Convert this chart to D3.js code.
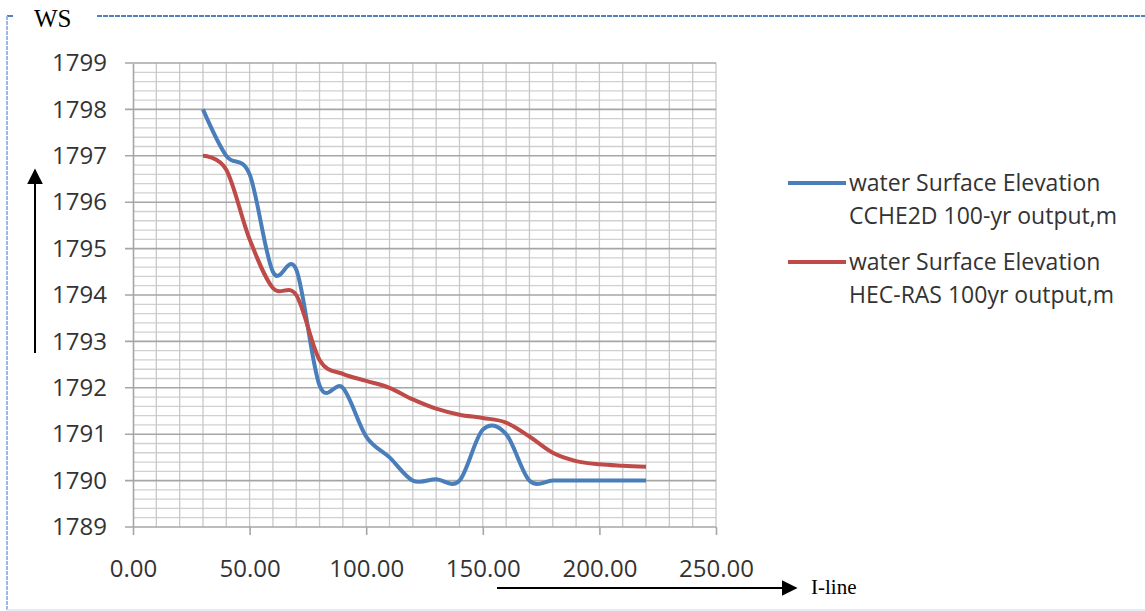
<!DOCTYPE html>
<html>
<head>
<meta charset="utf-8">
<script src="https://cdn.jsdelivr.net/npm/d3@7"></script>
<style>
  html, body { margin: 0; padding: 0; background: #fff; }
  svg { display: block; }
</style>
</head>
<body>
<svg id="chart" width="1145" height="611"></svg>
<script>
// Station (I-line) positions along the reach
const stations = [30, 40, 50, 60, 70, 80, 90, 100, 110, 120, 130, 140, 150, 160, 170, 180, 190, 200, 210, 220];
// CCHE2D 100-yr water surface elevation (m)
const cche2d = [1798.0, 1797.0, 1796.6, 1794.5, 1794.55, 1792.05, 1792.0, 1790.95, 1790.5, 1790.0, 1790.03, 1790.0, 1791.1, 1791.0, 1790.0, 1790.0, 1790.0, 1790.0, 1790.0, 1790.0];
// HEC-RAS 100-yr water surface elevation (m)
const hecras = [1797.0, 1796.7, 1795.2, 1794.15, 1794.0, 1792.6, 1792.3, 1792.15, 1792.0, 1791.75, 1791.55, 1791.42, 1791.35, 1791.25, 1790.95, 1790.6, 1790.42, 1790.35, 1790.32, 1790.3];

const seriesNames = ["water Surface Elevation|CCHE2D 100-yr output,m", "water Surface Elevation|HEC-RAS 100yr output,m"];
const seriesColors = ["#4a7ebb", "#be4b48"];
const xTicks = [0, 50, 100, 150, 200, 250];
const yTicks = [1789, 1790, 1791, 1792, 1793, 1794, 1795, 1796, 1797, 1798, 1799];

const svg = d3.select("#chart");
const font = "'Open Sans', Lato, sans-serif";

const x = d3.scaleLinear().domain([0, 250]).range([133, 716]);
const y = d3.scaleLinear().domain([1789, 1799]).range([527, 63]);

// Frame around the figure
svg.append("line").attr("x1", 97).attr("x2", 1145).attr("y1", 16).attr("y2", 16)
  .attr("stroke", "#4f81bd").attr("stroke-width", 2).attr("stroke-dasharray", "5,1");
svg.append("line").attr("x1", 7).attr("x2", 13).attr("y1", 16).attr("y2", 16)
  .attr("stroke", "#4f81bd").attr("stroke-width", 2);
svg.append("line").attr("x1", 7).attr("x2", 7).attr("y1", 16).attr("y2", 611)
  .attr("stroke", "#9db8e2").attr("stroke-width", 2).attr("stroke-dasharray", "4,1");
svg.append("line").attr("x1", 7).attr("x2", 1145).attr("y1", 610).attr("y2", 610)
  .attr("stroke", "#e3ebf7").attr("stroke-width", 2);

// Grid: minor horizontal every 0.2 m, vertical every 10 stations
const g = svg.append("g");
const minorY = d3.range(1789, 1799.001, 0.2).filter(v => Math.abs(v - Math.round(v)) > 1e-6);
g.selectAll(".hminor").data(minorY).join("line")
  .attr("x1", x(0)).attr("x2", x(250)).attr("y1", d => y(d)).attr("y2", d => y(d))
  .attr("stroke", "#d0d0d0").attr("stroke-width", 1.3);
g.selectAll(".vminor").data(d3.range(10, 251, 10)).join("line")
  .attr("x1", d => x(d)).attr("x2", d => x(d)).attr("y1", y(1799)).attr("y2", y(1789))
  .attr("stroke", "#c8c8c8").attr("stroke-width", 1.3);
g.selectAll(".hmajor").data(yTicks).join("line")
  .attr("x1", x(0) - 8).attr("x2", x(250)).attr("y1", d => y(d)).attr("y2", d => y(d))
  .attr("stroke", "#a6a6a6").attr("stroke-width", 1.6);

// Axes
const yAxis = svg.append("g").attr("transform", `translate(${x(0)},0)`)
  .call(d3.axisLeft(y).tickValues(yTicks).tickFormat(d3.format("d")).tickSize(0).tickPadding(26));
yAxis.select(".domain").attr("stroke", "#a6a6a6").attr("stroke-width", 1.6);
yAxis.selectAll("text").attr("font-family", font).attr("font-size", 24).attr("fill", "#333");

const xAxis = svg.append("g").attr("transform", `translate(0,${y(1789)})`)
  .call(d3.axisBottom(x).tickValues(xTicks).tickFormat(d3.format(".2f")).tickSize(8).tickPadding(25));
xAxis.select(".domain").remove();
xAxis.selectAll(".tick line").attr("stroke", "#a6a6a6").attr("stroke-width", 1.6);
xAxis.selectAll("text").attr("font-family", font).attr("font-size", 24).attr("fill", "#333");

// Series lines (smoothed)
const line = d3.line().x(d => x(d[0])).y(d => y(d[1])).curve(d3.curveCardinal.tension(0));
const seriesData = [cche2d, hecras];
seriesData.forEach((vals, i) => {
  svg.append("path")
    .datum(stations.map((s, j) => [s, vals[j]]))
    .attr("d", line)
    .attr("fill", "none")
    .attr("stroke", seriesColors[i])
    .attr("stroke-width", 4)
    .attr("stroke-linejoin", "round");
});

// Legend
const legendY = [183, 262];
seriesNames.forEach((name, i) => {
  const lg = svg.append("g");
  lg.append("line").attr("x1", 788).attr("x2", 846).attr("y1", legendY[i]).attr("y2", legendY[i])
    .attr("stroke", seriesColors[i]).attr("stroke-width", 4);
  name.split("|").forEach((t, k) => {
    lg.append("text").attr("x", 849).attr("y", legendY[i] + k * 33 + 8)
      .attr("font-family", font).attr("font-size", 23).attr("fill", "#333").text(t);
  });
});

// Axis captions with direction arrows
svg.append("defs").append("marker")
  .attr("id", "arrowhead").attr("viewBox", "0 0 10 10").attr("refX", 9).attr("refY", 5)
  .attr("markerWidth", 16).attr("markerHeight", 16).attr("markerUnits", "userSpaceOnUse")
  .attr("orient", "auto")
  .append("path").attr("d", "M0,0 L10,5 L0,10 Z").attr("fill", "#000");

svg.append("line").attr("x1", 35).attr("x2", 35).attr("y1", 353).attr("y2", 170)
  .attr("stroke", "#000").attr("stroke-width", 2).attr("marker-end", "url(#arrowhead)");
svg.append("line").attr("x1", 497).attr("x2", 796).attr("y1", 588).attr("y2", 588)
  .attr("stroke", "#000").attr("stroke-width", 2).attr("marker-end", "url(#arrowhead)");

svg.append("text").attr("x", 34).attr("y", 27)
  .attr("font-family", "'Liberation Serif', 'Times New Roman', serif").attr("font-size", 25)
  .attr("fill", "#000").text("WS");
svg.append("text").attr("x", 811).attr("y", 594)
  .attr("font-family", "'Liberation Serif', 'Times New Roman', serif").attr("font-size", 21)
  .attr("fill", "#000").text("I-line");
</script>
</body>
</html>
